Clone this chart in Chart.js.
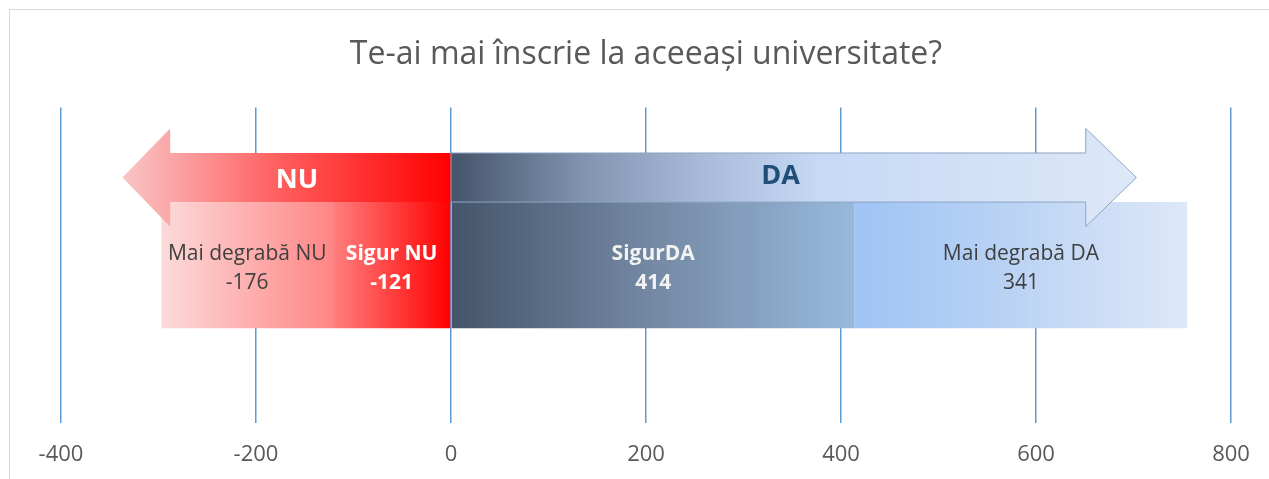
<!DOCTYPE html>
<html><head><meta charset="utf-8">
<script src="https://cdn.jsdelivr.net/npm/chart.js@4/dist/chart.umd.min.js"></script>
<style>html,body{margin:0;padding:0;background:#fff;}#wrap{width:1269px;height:479px;position:relative;}</style>
</head><body><div id="wrap"><canvas id="c" width="1269" height="479"></canvas></div>
<script>
// ---- data ----
const categories = [''];
const seriesNames = ['Sigur NU', 'Mai degrabă NU', 'SigurDA', 'Mai degrabă DA'];
const sigurNU = [-121];
const maiDegrabaNU = [-176];
const sigurDA = [414];
const maiDegrabaDA = [341];
const xTickValues = [-400, -200, 0, 200, 400, 600, 800];
const arrowLabels = ['NU', 'DA'];
const chartTitle = 'Te-ai mai înscrie la aceeași universitate?';

const FONT = "'Open Sans', 'DejaVu Sans', sans-serif";

// segment extents derived from data (stacked)
const segs = [
  [0, sigurNU[0]],
  [sigurNU[0], sigurNU[0] + maiDegrabaNU[0]],
  [0, sigurDA[0]],
  [sigurDA[0], sigurDA[0] + maiDegrabaDA[0]]
];

function makeGrad(chart, v0, v1, stops) {
  const xs = chart.scales && chart.scales.x;
  if (!xs || !chart.chartArea) return stops[0][1];
  const p0 = xs.getPixelForValue(v0), p1 = xs.getPixelForValue(v1);
  if (!isFinite(p0) || !isFinite(p1)) return stops[0][1];
  const g = chart.ctx.createLinearGradient(p0, 0, p1, 0);
  stops.forEach(([o, c]) => g.addColorStop(o, c));
  return g;
}

const segStops = [
  [[0, '#ff0000'], [1, '#ff7f7f']],
  [[0, '#ff8585'], [1, '#fcdada']],
  [[0, '#44546a'], [0.5, '#7489a4'], [1, '#98b9dc']],
  [[0, '#9fc3f5'], [0.5, '#bcd4f4'], [1, '#dee8f8']]
];
const labelStyles = [
  {color: '#ffffff', weight: 'bold'},
  {color: '#404040', weight: 'normal'},
  {color: '#f2f2f2', weight: 'bold'},
  {color: '#404040', weight: 'normal'}
];
const seriesData = [sigurNU, maiDegrabaNU, sigurDA, maiDegrabaDA];

const datasets = seriesData.map((d, i) => ({
  label: seriesNames[i],
  data: d,
  backgroundColor: (ctx) => makeGrad(ctx.chart, segs[i][0], segs[i][1], segStops[i]),
  borderWidth: 0,
  barPercentage: 0.4,
  categoryPercentage: 1
}));

const borderPlugin = {
  id: 'outerBorder',
  beforeDraw(chart) {
    const c = chart.ctx;
    c.save();
    c.fillStyle = '#ffffff';
    c.fillRect(0, 0, chart.width, chart.height);
    c.strokeStyle = '#d9d9d9';
    c.lineWidth = 1;
    c.strokeRect(9.5, 9.5, chart.width + 20, chart.height + 20);
    c.restore();
  }
};

const arrowPlugin = {
  id: 'arrowsAndLabels',
  afterDatasetsDraw(chart, args, opts) {
    const c = chart.ctx;
    const xs = chart.scales.x;
    const el = chart.getDatasetMeta(0).data[0];
    const thick = el.height;
    const barTop = el.y - thick / 2;
    const s = thick * opts.shaftFrac;
    const cy = barTop - s / 2;

    opts.arrows.forEach((a, idx) => {
      const x0 = xs.getPixelForValue(a.from);
      const xb = xs.getPixelForValue(a.headBase);
      const xt = xs.getPixelForValue(a.tip);
      c.save();
      c.beginPath();
      c.moveTo(xt, cy);
      c.lineTo(xb, cy - s);
      c.lineTo(xb, cy - s / 2);
      c.lineTo(x0, cy - s / 2);
      c.lineTo(x0, cy + s / 2);
      c.lineTo(xb, cy + s / 2);
      c.lineTo(xb, cy + s);
      c.closePath();
      const g = c.createLinearGradient(x0, 0, xt, 0);
      a.stops.forEach(([o, col]) => g.addColorStop(o, col));
      c.fillStyle = g;
      c.fill();
      if (a.stroke) {
        c.strokeStyle = a.stroke;
        c.lineWidth = 1;
        c.stroke();
      }
      // arrow label
      c.font = `bold ${a.fontSize}px ${FONT}`;
      c.fillStyle = a.textColor;
      c.textAlign = 'center';
      c.textBaseline = 'alphabetic';
      c.fillText(arrowLabels[idx], xs.getPixelForValue(a.labelAt), cy + a.fontSize * 0.357 + a.dy);
      c.restore();
    });

    // data labels
    seriesData.forEach((d, i) => {
      const e = chart.getDatasetMeta(i).data[0];
      const cx = (e.x + e.base) / 2;
      const st = labelStyles[i];
      c.save();
      c.font = `${st.weight} 21px ${FONT}`;
      c.fillStyle = st.color;
      c.textAlign = 'center';
      c.textBaseline = 'alphabetic';
      c.fillText(seriesNames[i], cx, e.y - 5);
      c.fillText(String(d[0]), cx, e.y + 24);
      c.restore();
    });
  }
};

new Chart(document.getElementById('c'), {
  type: 'bar',
  data: {labels: categories, datasets},
  options: {
    indexAxis: 'y',
    responsive: false,
    animation: false,
    devicePixelRatio: 1,
    layout: {padding: {left: 61, right: 38, top: 0, bottom: 10}},
    scales: {
      x: {
        stacked: true,
        min: xTickValues[0],
        max: xTickValues[xTickValues.length - 1],
        afterBuildTicks(scale) { scale.ticks = xTickValues.map(v => ({value: v})); },
        afterFit(scale) { scale.height = 46; },
        grid: {color: '#5b9bd5', lineWidth: 1.5, drawTicks: false},
        border: {display: false},
        ticks: {color: '#595959', font: {family: FONT, size: 22}, padding: 19, maxRotation: 0}
      },
      y: {stacked: true, display: false}
    },
    plugins: {
      legend: {display: false},
      tooltip: {enabled: false},
      title: {
        display: true,
        text: chartTitle,
        color: '#595959',
        font: {family: FONT, size: 32, weight: 'normal'},
        padding: {top: 36, bottom: 33}
      },
      arrowsAndLabels: {
        shaftFrac: 0.389,
        arrows: [
          {from: 0, headBase: -288, tip: -337, labelAt: -158, dy: 1, fontSize: 27, textColor: '#ffffff',
           stops: [[0, '#ff0000'], [0.5, '#ff5a5a'], [1, '#f9c6c6']], stroke: null},
          {from: 0, headBase: 651, tip: 703, labelAt: 338, dy: -3, fontSize: 27, textColor: '#1f4e79',
           stops: [[0, '#44546a'], [0.2, '#8296b2'], [0.36, '#a6bad8'], [0.54, '#c6d9f5'], [1, '#dde8f8']],
           stroke: '#8ea5c3'}
        ]
      }
    }
  },
  plugins: [borderPlugin, arrowPlugin]
});
</script>
</body></html>
